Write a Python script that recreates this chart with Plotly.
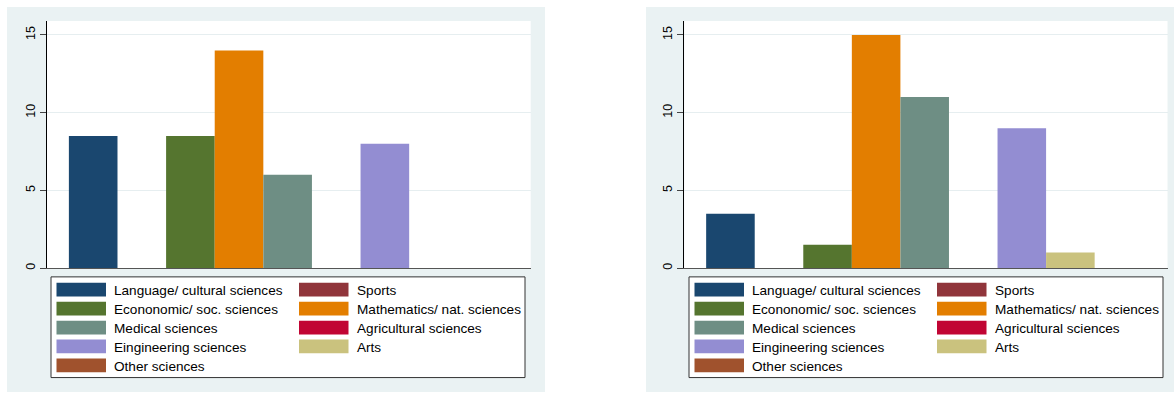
import plotly.graph_objects as go

# Fields of study, in bar order
fields = [
    "Language/ cultural sciences",
    "Sports",
    "Econonomic/ soc. sciences",
    "Mathematics/ nat. sciences",
    "Medical sciences",
    "Agricultural sciences",
    "Eingineering sciences",
    "Arts",
    "Other sciences",
]
colors = ["#1A476F", "#90353B", "#55752F", "#E37E00", "#6E8E84",
          "#C10534", "#938DD2", "#CAC27E", "#A0522D"]

# Bar heights for the two panels
left_values = [8.5, 0, 8.5, 14, 6, 0, 8, 0, 0]
right_values = [3.5, 0, 1.5, 15, 11, 0, 9, 1, 0]

y_ticks = [0, 5, 10, 15]

W, H = 1174, 394
FONT = "Liberation Sans, Arial, sans-serif"
BG = "#EAF2F3"


def px(x):
    return x / W


def py(y):
    return 1 - y / H


fig = go.Figure()

panels = [
    dict(values=left_values, xa="x", ya="y", plot=(47, 530.7), bg=(7, 545), legend_x=51),
    dict(values=right_values, xa="x2", ya="y2", plot=(684.3, 1167.5), bg=(646, 1174), legend_x=689),
]

plot_top, plot_bottom = 21, 269.5

shapes = []
annotations = []
for p in panels:
    for i, (name, val, col) in enumerate(zip(fields, p["values"], colors)):
        fig.add_trace(go.Bar(
            x=[i], y=[val], width=1, name=name,
            marker=dict(color=col, line=dict(width=0)),
            xaxis=p["xa"], yaxis=p["ya"], showlegend=False,
            hovertemplate=name + ": %{y}<extra></extra>",
        ))

    # graph region and white plot region
    shapes.append(dict(type="rect", xref="paper", yref="paper", layer="below",
                       x0=px(p["bg"][0]), x1=px(p["bg"][1]), y0=py(H), y1=py(7),
                       fillcolor=BG, line=dict(width=0)))
    shapes.append(dict(type="rect", xref="paper", yref="paper", layer="below",
                       x0=px(p["plot"][0]), x1=px(p["plot"][1]),
                       y0=py(plot_bottom), y1=py(plot_top),
                       fillcolor="white", line=dict(width=0)))

    # legend box: two columns, filled row by row
    lx = p["legend_x"]
    shapes.append(dict(type="rect", xref="paper", yref="paper", layer="above",
                       x0=px(lx), x1=px(lx + 474), y0=py(379.5), y1=py(278.3),
                       fillcolor="white", line=dict(color="#333333", width=1)))
    for i, (name, col) in enumerate(zip(fields, colors)):
        row, c = divmod(i, 2)
        cy = 291.2 + 19 * row
        sx = lx + 5.5 + 242.5 * c
        shapes.append(dict(type="rect", xref="paper", yref="paper", layer="above",
                           x0=px(sx), x1=px(sx + 49.5), y0=py(cy + 6.9), y1=py(cy - 6.9),
                           fillcolor=col, line=dict(width=0)))
        annotations.append(dict(text=name, xref="paper", yref="paper",
                                x=px(sx + 56.5), y=py(cy + 1), xanchor="left", yanchor="middle",
                                showarrow=False, borderpad=0,
                                font=dict(family=FONT, size=13.6, color="black")))

x_common = dict(range=[-0.95, 9.0], showgrid=False, zeroline=False, showticklabels=False,
                ticks="", showline=True, linecolor="#555555", linewidth=1, fixedrange=True)
y_common = dict(range=[0, 15.9], tickvals=y_ticks, ticktext=[str(t) for t in y_ticks],
                tickangle=-90, ticks="outside", ticklen=6, tickcolor="#444444", tickwidth=1,
                showline=True, linecolor="black", linewidth=1, zeroline=False,
                showgrid=True, gridcolor="#E6EEF0", gridwidth=1,
                tickfont=dict(family=FONT, size=12.5, color="black"), fixedrange=True)

dom_y = [py(plot_bottom), py(plot_top)]
fig.update_layout(
    width=W, height=H, autosize=False,
    margin=dict(l=0, r=0, t=0, b=0),
    paper_bgcolor="white", plot_bgcolor="rgba(0,0,0,0)",
    barmode="overlay", showlegend=False,
    xaxis=dict(domain=[px(47), px(530.7)], anchor="y", **x_common),
    yaxis=dict(domain=dom_y, anchor="x", **y_common),
    xaxis2=dict(domain=[px(684.3), px(1167.5)], anchor="y2", **x_common),
    yaxis2=dict(domain=dom_y, anchor="x2", **y_common),
    shapes=shapes, annotations=annotations,
    font=dict(family=FONT),
)

fig.write_html("out.html")
